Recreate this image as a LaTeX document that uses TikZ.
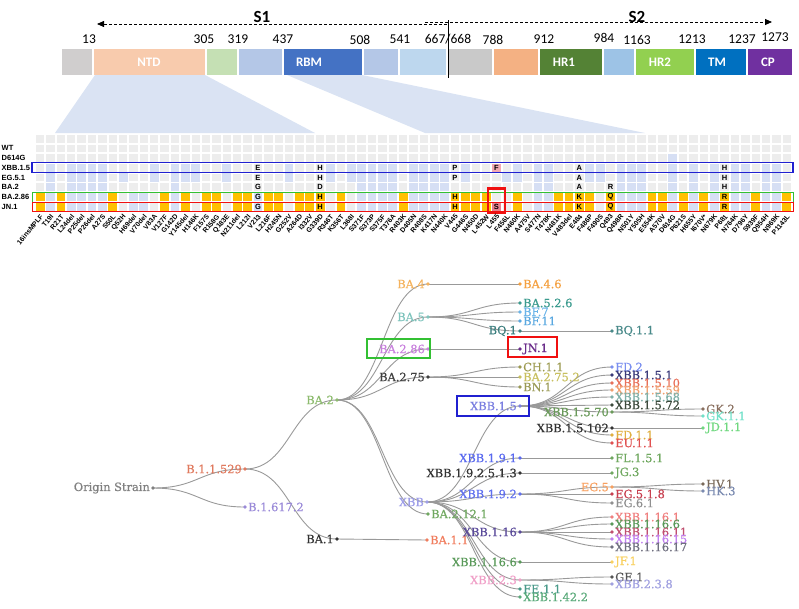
\documentclass[tikz,border=0pt]{standalone}
\usepackage{fontspec}
\setmainfont{DejaVu Serif}
\newfontfamily\treefont[FakeBold=0.6]{DejaVu Serif}
\newfontfamily\barfont{Carlito}
\newfontfamily\gfont{Liberation Sans}
\usetikzlibrary{arrows.meta,calc}
\pgfdeclarelayer{bg}
\pgfsetlayers{bg,main}
\definecolor{cellgray}{HTML}{EDEDED}
\definecolor{cellblue}{HTML}{D6DFF4}
\definecolor{cellorg}{HTML}{FFC000}
\definecolor{cellpink}{HTML}{F2A9B2}
\definecolor{cellpinkr}{HTML}{E8808E}
\definecolor{trap}{HTML}{DAE3F3}
\definecolor{sgray}{HTML}{D0CECE}
\definecolor{sntd}{HTML}{F8CBAD}
\definecolor{sgreen}{HTML}{C5E0B4}
\definecolor{slb}{HTML}{B4C7E7}
\definecolor{srbm}{HTML}{4472C4}
\definecolor{slbb}{HTML}{BDD7EE}
\definecolor{sgrayb}{HTML}{C9C9C9}
\definecolor{sorg}{HTML}{F4B183}
\definecolor{shra}{HTML}{548235}
\definecolor{slbc}{HTML}{9DC3E6}
\definecolor{shrb}{HTML}{92D050}
\definecolor{stm}{HTML}{0070C0}
\definecolor{scp}{HTML}{7030A0}
\definecolor{boxblue}{HTML}{2020D0}
\definecolor{boxgreen}{HTML}{33C033}
\definecolor{boxred}{HTML}{F01010}
\newcommand\seg[4]{\node[seg, fill=#4, minimum width={(#3)-(#2)}] (#1) at (#2,62) {};}
\newcommand\cellfill[3]{\foreach \i in {#3} \fill[#2] (g-#1-\i.south west) rectangle (g-#1-\i.north east);}
\newcommand\tnR[5]{\definecolor{tc#1}{HTML}{#4}\node[dot,fill=tc#1] (#1) at (#2,#3) {};\node[tlab,text=tc#1,anchor=west] (#1-l) at (#1.east) {#5};}
\newcommand\tnL[5]{\definecolor{tc#1}{HTML}{#4}\node[dot,fill=tc#1] (#1) at (#2,#3) {};\node[tlab,text=tc#1,anchor=east] (#1-l) at (#1.west) {#5};}
\newcommand\lnk[2]{\draw[edge] let \p1=(#1.center), \p2=(#2.center) in (\p1) .. controls ({(\x1+\x2)/2},\y1) and ({(\x1+\x2)/2},\y2) .. (\p2);}
\begin{document}
\begin{tikzpicture}[x=1pt,y=-1pt,
 cell/.style={rectangle, inner sep=0, minimum width=8.4pt, minimum height=7.8pt, fill=cellgray},
 mlab/.style={font=\gfont\bfseries\fontsize{6.9}{7.5}\selectfont, inner sep=0.5pt, anchor=east, rotate=50},
 rowlab/.style={font=\gfont\bfseries\fontsize{7.5}{8}\selectfont, inner sep=0, anchor=west},
 letter/.style={font=\gfont\bfseries\fontsize{7.5}{8}\selectfont, inner sep=0},
 seg/.style={rectangle, inner sep=0, minimum height=26pt, anchor=west},
 seglab/.style={text=white, font=\barfont\bfseries\fontsize{13}{14}\selectfont, inner sep=0},
 num/.style={font=\barfont\fontsize{13.5}{14}\selectfont, inner sep=0},
 dot/.style={circle, inner sep=0, minimum size=3.6pt},
 tlab/.style={font=\treefont\fontsize{11.4}{12}\selectfont, inner sep=1pt},
 edge/.style={draw=black!40, line width=0.9pt},
 dl/.style={densely dashed, line width=0.8pt},
]
\useasboundingbox (0,0) rectangle (799,608);
% trapezoids
\fill[trap] (95,75) -- (205,75) -- (315,133) -- (55,133) -- cycle;
\fill[trap] (287,75) -- (362,75) -- (645,133) -- (425,133) -- cycle;
% bar
\seg{sA}{62}{92}{sgray}
\seg{sNTD}{94}{205}{sntd}
\seg{sB}{207}{237}{sgreen}
\seg{sC}{239}{282}{slb}
\seg{sRBM}{284}{362}{srbm}
\seg{sD}{364}{398}{slb}
\seg{sE}{400}{446}{slbb}
\seg{sF}{449}{492}{sgrayb}
\seg{sG}{494}{538}{sorg}
\seg{sHRa}{540}{602}{shra}
\seg{sH}{604}{634}{slbc}
\seg{sHRb}{636}{694}{shrb}
\seg{sTM}{696}{746}{stm}
\seg{sCP}{748}{792}{scp}
\node[seglab] (lNTD) at (149,62) {NTD};
\node[seglab] (lRBM) at (309,62) {RBM};
\node[seglab] (lHRa) at (564,62) {HR1};
\node[seglab] (lHRb) at (660,62) {HR2};
\node[seglab] (lTM) at (717,62) {TM};
\node[seglab] (lCP) at (768,62) {CP};
% numbers
\foreach \x/\t/\y in {89/13/39.5,204/305/39.5,238/319/39.5,283/437/39.5,360/508/39.5,400/541/39.5,448/667{/}668/39.5,493/788/39.5,544/912/39.5,604/984/38,637/1163/39.5,692/1213/39.5,742/1237/39.5,775/1273/37}
  \node[num] (n\x) at (\x,\y) {\t};
% S1 / S2
\coordinate (vt) at (448,20);
\coordinate (vb) at (448,78);
\draw[line width=1pt] (vt) -- (vb);
\coordinate (s1a) at (447,24);
\coordinate (s1b) at (97,24);
\coordinate (s2a) at (425,22);
\coordinate (s2b) at (772,22);
\draw[dl,-{Triangle[length=7pt,width=6pt]}] (s1a) -- (s1b);
\draw[dl,-{Triangle[length=7pt,width=6pt]}] (s2a) -- (s2b);
\node[font=\barfont\bfseries\fontsize{17}{18}\selectfont, inner sep=0] (S1) at (262,16.5) {S1};
\node[font=\barfont\bfseries\fontsize{17}{18}\selectfont, inner sep=0] (S2) at (637,16.5) {S2};
% grid
\foreach \r in {0,...,7}
  \foreach \i in {1,...,73}
    \node[cell] (g-\r-\i) at ({29.815+10.37*\i},{138.7+9.71*\r}) {};
\cellfill{2}{cellblue}{62}
\cellfill{3}{cellblue}{2,4,5,6,7,12,14,15,16,19,25,29,31,32,33,34,35,37,38,39,40,42,47,49,50,54,55,57,58,59,62,64,66,68,69,71,72}
\cellfill{4}{cellblue}{2,4,5,6,7,9,12,14,15,16,19,25,29,31,32,33,34,35,37,38,39,40,42,46,47,49,50,54,55,57,58,59,62,64,66,68,69,71,72}
\cellfill{5}{cellblue}{2,4,5,6,7,14,32,33,34,35,37,38,39,40,49,50,57,58,59,62,64,66,68,69,71,72}
\cellfill{6}{cellblue}{2,4,5,6,7,10,11,14,22,32,33,34,35,37,38,39,40,49,50,57,58,59,62,64,66,68,69,71,72}
\cellfill{7}{cellblue}{2,4,5,6,7,10,11,14,22,32,33,34,35,37,38,39,40,49,50,57,58,59,62,64,66,68,69,71,72}
\cellfill{6}{cellorg}{1,3,8,13,15,17,18,20,21,23,24,26,27,28,30,36,41,42,43,44,47,51,52,53,54,56,60,61,63,65,67,70,73}
\cellfill{7}{cellorg}{1,3,8,13,15,17,18,20,21,23,24,26,27,28,30,36,41,42,43,44,47,51,52,53,54,56,60,61,63,65,67,70,73}
\cellfill{3}{cellpink}{45}
\cellfill{7}{cellpinkr}{45}
% letters
\foreach \r/\i/\t in {3/22/E,3/28/H,3/41/P,3/45/F,3/53/A,3/67/H,
  4/22/E,4/28/H,4/41/P,4/53/A,4/67/H,
  5/22/G,5/28/D,5/53/A,5/56/R,5/67/H,
  6/22/G,6/28/H,6/41/H,6/53/K,6/56/Q,6/67/R,
  7/22/G,7/28/H,7/41/H,7/45/S,7/53/K,7/56/Q,7/67/R}
  \node[letter] (L-\r-\i) at (g-\r-\i) {\t};
% row labels
\foreach \r/\t in {1/WT,2/D614G,3/XBB.1.5,4/EG.5.1,5/BA.2,6/BA.2.86,7/JN.1}
  \node[rowlab] (rl-\r) at (1.5,{138.7+9.71*\r}) {\t};
% row boxes
\node[draw=boxblue, line width=1.2pt, minimum width=761pt, minimum height=10.5pt, inner sep=0] (bxX) at (412.5,167.5) {};
\node[draw=boxgreen, line width=1pt, minimum width=761pt, minimum height=9.6pt, inner sep=0] (bxG) at (412.5,197.3) {};
\node[draw=boxred, line width=1pt, minimum width=761pt, minimum height=9.6pt, inner sep=0] (bxR) at (412.5,207) {};
\node[draw=boxred, line width=2.2pt, minimum width=17pt, minimum height=24pt, inner sep=0] (bxL) at (496.5,200.5) {};
% mutation labels
\foreach \i/\t in {1/16insMPLF,2/T19I,3/R21T,4/L24del,5/P25del,6/P26del,7/A27S,8/S50L,9/Q52H,10/H69del,11/V70del,12/V83A,13/V127F,14/G142D,15/Y145del,16/H146K,17/F157S,18/R158G,19/Q183E,20/N211del,21/L212I,22/V213,23/L216F,24/H245N,25/G252V,26/A264D,27/I332V,28/G339D,29/R346T,30/K356T,31/L368I,32/S371F,33/S373P,34/S375F,35/T376A,36/R403K,37/D405N,38/R408S,39/K417N,40/N440K,41/V445,42/G446S,43/N450D,44/L452W,45/L455,46/F456L,47/N460K,48/A475V,49/S477N,50/T478K,51/N481K,52/V483del,53/E484,54/F486P,55/F490S,56/Q493,57/Q498R,58/N501Y,59/Y505H,60/E554K,61/A570V,62/D614G,63/P621S,64/H655Y,65/I670V*,66/N679K,67/P681,68/N764K,69/D796Y,70/S939F,71/Q954H,72/N969K,73/P1143L}
  \node[mlab] (m-\i) at ({29.815+10.37*\i+2},215) {\t};
% tree nodes
\tnL{origin}{153}{488}{808080}{Origin Strain}
\tnL{bonea}{245}{469}{E07A5F}{B.1.1.529}
\tnR{bsix}{245}{507}{9A8AD8}{B.1.617.2}
\tnL{batwo}{337}{400}{8DBB6E}{BA.2}
\tnL{baone}{337}{539}{333333}{BA.1}
\tnL{bafour}{428}{284}{F4B35E}{BA.4}
\tnL{bafive}{428}{317}{7FC4BD}{BA.5}
\tnL{baeight}{428}{349}{C880DD}{BA.2.86}
\tnL{baseven}{428}{377}{404040}{BA.2.75}
\tnL{xbb}{427}{502}{9E9EE8}{XBB}
\tnR{batwelve}{428}{514}{70A860}{BA.2.12.1}
\tnR{baoneone}{427}{540}{F07D5E}{BA.1.1}
\tnR{bafoursix}{520}{284}{F4A040}{BA.4.6}
\tnR{bafivetwo}{520}{303}{3B9B8E}{BA.5.2.6}
\tnR{bfseven}{520}{312}{6AB4E8}{BF.7}
\tnR{bfeleven}{520}{321}{5AA8E0}{BF.11}
\tnL{bqone}{520}{331}{3D7F7F}{BQ.1}
\tnR{bqoneone}{612}{331}{4A8A8A}{BQ.1.1}
\tnR{jnone}{520}{349}{6A2C8A}{JN.1}
\tnR{chone}{520}{367}{9C9A50}{CH.1.1}
\tnR{basevtwo}{520}{377}{C8C060}{BA.2.75.2}
\tnR{bnone}{520}{387}{9A9A55}{BN.1}
\tnL{xbbfive}{520}{406}{7B7FE0}{XBB.1.5}
\tnL{xbbnineone}{520}{458}{5A6AEF}{XBB.1.9.1}
\tnL{xbblong}{520}{473}{333333}{XBB.1.9.2.5.1.3}
\tnL{xbbninetwo}{520}{494}{6070EF}{XBB.1.9.2}
\tnL{xbbsixteen}{520}{532}{5A4A9A}{XBB.1.16}
\tnL{xbbsixsixa}{520}{562}{5A9A5A}{XBB.1.16.6}
\tnL{xbbtwothree}{520}{580}{F0A0C8}{XBB.2.3}
\tnR{feone}{520}{589}{4A9A8A}{FE.1.1}
\tnR{xbbfortytwo}{520}{597}{5AAA7A}{XBB.1.42.2}
\tnR{fdtwo}{612}{367}{7B8FEF}{FD.2}
\tnR{xfa}{612}{375}{3A3A7A}{XBB.1.5.1}
\tnR{xfb}{612}{383}{E8705A}{XBB.1.5.10}
\tnR{xfc}{612}{390}{F0A070}{XBB.1.5.59}
\tnR{xfd}{612}{397}{7FB0A8}{XBB.1.5.68}
\tnR{xfe}{612}{405}{3C4A3C}{XBB.1.5.72}
\tnL{xff}{612}{412}{6A9A5A}{XBB.1.5.70}
\tnL{xfg}{612}{428}{333333}{XBB.1.5.102}
\tnR{fdoneone}{612}{435}{E0B040}{FD.1.1}
\tnR{euoneone}{612}{443}{E05050}{EU.1.1}
\tnR{gktwo}{703}{409}{8A7060}{GK.2}
\tnR{gkoneone}{703}{416}{70E0C8}{GK.1.1}
\tnR{jdoneone}{703}{428}{70D880}{JD.1.1}
\tnR{flone}{612}{458}{70A860}{FL.1.5.1}
\tnR{jgthree}{612}{473}{70A860}{JG.3}
\tnL{egfive}{612}{487}{F8A060}{EG.5}
\tnR{egfiveeight}{612}{494}{C84050}{EG.5.1.8}
\tnR{egsixone}{612}{503}{909090}{EG.6.1}
\tnR{hvone}{703}{484}{7A6A5A}{HV.1}
\tnR{hkthree}{703}{491}{7A8AB0}{HK.3}
\tnR{xsa}{612}{517}{F08080}{XBB.1.16.1}
\tnR{xsb}{612}{524}{5A9A5A}{XBB.1.16.6}
\tnR{xsc}{612}{532}{C05070}{XBB.1.16.11}
\tnR{xsd}{612}{539}{C080F0}{XBB.1.16.15}
\tnR{xse}{612}{547}{707080}{XBB.1.16.17}
\tnR{jfone}{612}{562}{F8D060}{JF.1}
\tnR{geone}{612}{577}{555555}{GE.1}
\tnR{xbbtteight}{612}{584}{A0A0E0}{XBB.2.3.8}
% boxes in tree
\node[draw=boxgreen, line width=1.3pt, minimum width=63pt, minimum height=19pt, inner sep=0] (tbG) at (398.5,348.5) {};
\node[draw=boxred, line width=1.3pt, minimum width=49pt, minimum height=20pt, inner sep=0] (tbR) at (532.5,347) {};
\node[draw=boxblue, line width=1.3pt, minimum width=72pt, minimum height=20pt, inner sep=0] (tbB) at (493,406) {};
% edges
\begin{pgfonlayer}{bg}
\lnk{origin}{bonea}\lnk{origin}{bsix}
\lnk{bonea}{batwo}\lnk{bonea}{baone}
\lnk{batwo}{bafour}\lnk{batwo}{bafive}\lnk{batwo}{baeight}\lnk{batwo}{baseven}\lnk{batwo}{xbb}\lnk{batwo}{batwelve}
\lnk{baone}{baoneone}
\lnk{bafour}{bafoursix}
\lnk{bafive}{bafivetwo}\lnk{bafive}{bfseven}\lnk{bafive}{bfeleven}\lnk{bafive}{bqone}
\lnk{bqone}{bqoneone}
\lnk{baeight}{jnone}
\lnk{baseven}{chone}\lnk{baseven}{basevtwo}\lnk{baseven}{bnone}
\lnk{xbb}{xbbfive}\lnk{xbb}{xbbnineone}\lnk{xbb}{xbblong}\lnk{xbb}{xbbninetwo}\lnk{xbb}{xbbsixteen}\lnk{xbb}{xbbsixsixa}\lnk{xbb}{xbbtwothree}\lnk{xbb}{feone}\lnk{xbb}{xbbfortytwo}
\lnk{xbbfive}{fdtwo}\lnk{xbbfive}{xfa}\lnk{xbbfive}{xfb}\lnk{xbbfive}{xfc}\lnk{xbbfive}{xfd}\lnk{xbbfive}{xfe}\lnk{xbbfive}{xff}\lnk{xbbfive}{xfg}\lnk{xbbfive}{fdoneone}\lnk{xbbfive}{euoneone}
\lnk{xff}{gktwo}\lnk{xff}{gkoneone}
\lnk{xfg}{jdoneone}
\lnk{xbbnineone}{flone}
\lnk{xbblong}{jgthree}
\lnk{xbbninetwo}{egfive}\lnk{xbbninetwo}{egfiveeight}\lnk{xbbninetwo}{egsixone}
\lnk{egfive}{hvone}\lnk{egfive}{hkthree}
\lnk{xbbsixteen}{xsa}\lnk{xbbsixteen}{xsb}\lnk{xbbsixteen}{xsc}\lnk{xbbsixteen}{xsd}\lnk{xbbsixteen}{xse}
\lnk{xbbsixsixa}{jfone}
\lnk{xbbtwothree}{geone}\lnk{xbbtwothree}{xbbtteight}
\end{pgfonlayer}
\end{tikzpicture}
\end{document}
